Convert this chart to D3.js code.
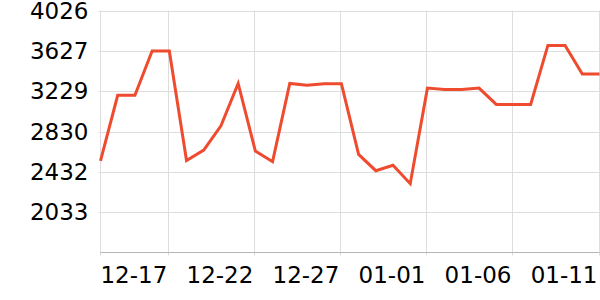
<!DOCTYPE html>
<html>
<head>
<meta charset="utf-8">
<script src="https://cdn.jsdelivr.net/npm/d3@7"></script>
<style>
  html, body { margin: 0; padding: 0; background: #fff; }
  svg text { font-family: "DejaVu Sans", sans-serif; }
</style>
</head>
<body>
<div id="chart"></div>
<script>
// daily values, 12-13 .. 01-11
var dates = ['12-13','12-14','12-15','12-16','12-17','12-18','12-19','12-20','12-21','12-22',
             '12-23','12-24','12-25','12-26','12-27','12-28','12-29','12-30','12-31','01-01',
             '01-02','01-03','01-04','01-05','01-06','01-07','01-08','01-09','01-10','01-11'];
var values = [2540, 3188, 3188, 3626, 3626, 2543, 2646, 2886, 3305, 2637,
              2532, 3305, 3287, 3303, 3303, 2604, 2443, 2496, 2315, 3259,
              3246, 3246, 3259, 3098, 3098, 3098, 3681, 3681, 3398, 3398];
var xTickLabels = ['12-17', '12-22', '12-27', '01-01', '01-06', '01-11'];
var yTickLabels = ['2033', '2432', '2830', '3229', '3627', '4026'];
var yMin = 1634.7, yMax = 4026;

(function () {
    var width = 600, height = 300,
        plotLeft = 100.5, plotRight = 599.5, plotTop = 10.5, plotBottom = 252.5,
        fontSize = 23,
        svg, x, y, line;

    svg = d3.select('#chart').append('svg')
        .attr('width', width)
        .attr('height', height);

    x = d3.scalePoint().domain(dates).range([plotLeft, plotRight]);
    y = d3.scaleLinear().domain([yMin, yMax]).range([plotBottom, plotTop]);

    // horizontal grid
    svg.append('g')
        .selectAll('line')
        .data(yTickLabels)
        .enter().append('line')
        .attr('x1', plotLeft - 2)
        .attr('x2', plotRight)
        .attr('y1', d => Math.round(y(+d)) + 0.5)
        .attr('y2', d => Math.round(y(+d)) + 0.5)
        .attr('stroke', '#dddddd')
        .attr('stroke-width', 1);

    // vertical grid
    svg.append('g')
        .selectAll('line')
        .data(xTickLabels)
        .enter().append('line')
        .attr('x1', d => Math.round(x(d)) - 0.5)
        .attr('x2', d => Math.round(x(d)) - 0.5)
        .attr('y1', plotTop)
        .attr('y2', plotBottom + 3)
        .attr('stroke', '#dddddd')
        .attr('stroke-width', 1);

    // left axis line
    svg.append('line')
        .attr('x1', plotLeft).attr('x2', plotLeft)
        .attr('y1', plotTop).attr('y2', plotBottom + 3)
        .attr('stroke', '#dddddd');

    // bottom axis line
    svg.append('line')
        .attr('x1', plotLeft).attr('x2', plotRight)
        .attr('y1', plotBottom).attr('y2', plotBottom)
        .attr('stroke', '#b5b5b5');

    // y labels
    svg.append('g')
        .selectAll('text')
        .data(yTickLabels)
        .enter().append('text')
        .attr('x', plotLeft - 12)
        .attr('y', d => y(+d))
        .attr('dy', '0.36em')
        .attr('text-anchor', 'end')
        .attr('font-size', fontSize)
        .attr('fill', '#000')
        .text(d => d);

    // x labels
    svg.append('g')
        .selectAll('text')
        .data(xTickLabels)
        .enter().append('text')
        .attr('x', d => x(d) - 2)
        .attr('y', 283)
        .attr('text-anchor', 'end')
        .attr('font-size', fontSize)
        .attr('fill', '#000')
        .text(d => d);

    line = d3.line()
        .x((d, i) => x(dates[i]))
        .y(d => y(d));

    svg.append('path')
        .datum(values)
        .attr('d', line)
        .attr('fill', 'none')
        .attr('stroke', '#ef4b2e')
        .attr('stroke-width', 3)
        .attr('stroke-linejoin', 'miter');
})();
</script>
</body>
</html>
